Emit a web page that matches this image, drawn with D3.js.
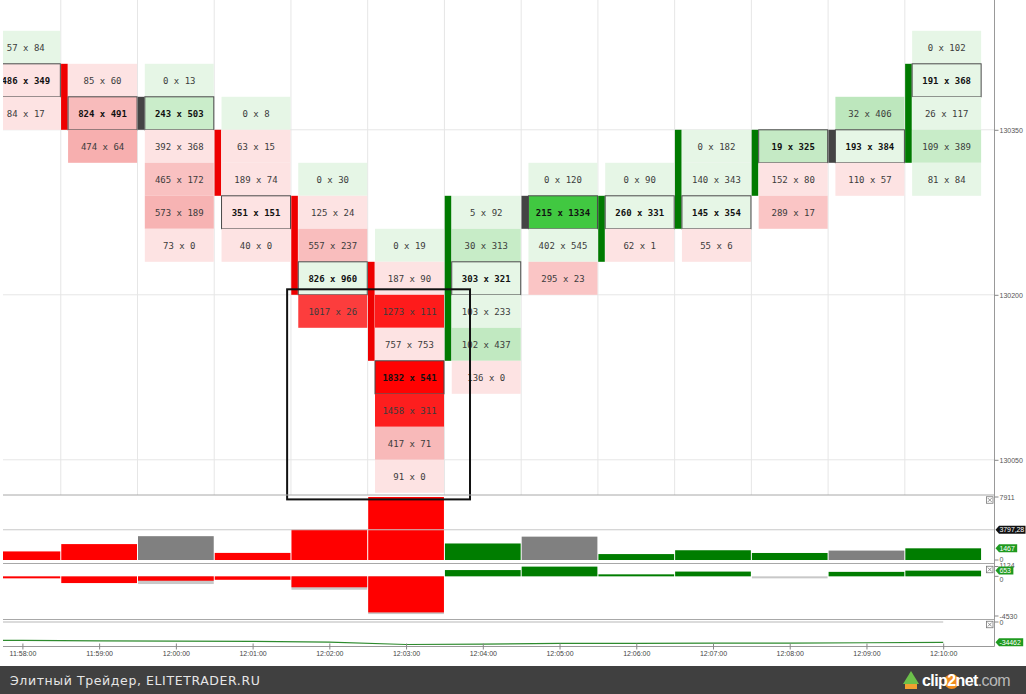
<!DOCTYPE html>
<html><head><meta charset="utf-8">
<script src="https://cdn.jsdelivr.net/npm/d3@7"></script>
<style>
html,body{margin:0;padding:0;background:#fff;}
svg{display:block;}
</style></head><body>
<svg id="chart" width="1026" height="694"></svg>
<script>
// ---------------- DATA ----------------
const times = ["11:58","11:59","12:00","12:01","12:02","12:03","12:04","12:05","12:06","12:07","12:08","12:09","12:10"];
const priceTicks = [130050, 130200, 130350];
const rowStep = 30;
// top price level (row lower bound) of each column's footprint
const cellTop = [130410,130380,130380,130350,130290,130230,130260,130290,130290,130320,130320,130350,130410];
// bid volume per row, top to bottom
const cellBids = [
  [57,486,84],
  [85,824,474],
  [0,243,392,465,573,73],
  [0,63,189,351,40],
  [0,125,557,826,1017],
  [0,187,1273,757,1832,1458,417,91],
  [5,30,303,103,102,136],
  [0,215,402,295],
  [0,260,62],
  [0,140,145,55],
  [19,152,289],
  [32,193,110],
  [0,191,26,109,81]
];
// ask volume per row, top to bottom
const cellAsks = [
  [84,349,17],
  [60,491,64],
  [13,503,368,172,189,0],
  [8,15,74,151,0],
  [30,24,237,960,26],
  [19,90,111,753,541,311,71,0],
  [92,313,321,233,437,0],
  [120,1334,545,23],
  [90,331,1],
  [182,343,354,6],
  [325,80,17],
  [406,384,57],
  [102,368,117,389,84]
];
// highlighted (point of control) row of each column
const pocPrice = [130380,130350,130350,130260,130200,130110,130200,130260,130260,130260,130320,130320,130380];
// candle body, as row levels
const candleOpen  = [130410,130380,130350,130320,130260,130200,130140,130260,130230,130260,130290,130320,130320];
const candleClose = [130380,130350,130350,130290,130200,130140,130260,130260,130260,130320,130320,130320,130380];
// lower panels
const volumeAvg = 3797.28;
const deltaAxisMin = -4530, deltaAxisMax = 1124;
const deltaLow = [null,null,-880,null,-1530,-4310,null,null,null,null,null,null,null];
const cumDeltaLast = -34462;
const footerText = "Элитный Трейдер, ELITETRADER.RU";

// ---------------- DERIVED ----------------
const parse = d3.timeParse("%H:%M");
const cols = times.map((t, i) => {
  const cells = cellBids[i].map((b, j) => ({price: cellTop[i] - j*rowStep, bid: b, ask: cellAsks[i][j]}));
  const bidSum = d3.sum(cellBids[i]), askSum = d3.sum(cellAsks[i]);
  const dir = candleClose[i] > candleOpen[i] ? 1 : (candleClose[i] < candleOpen[i] ? -1 : 0);
  return {i, t: parse(t), cells, vol: bidSum + askSum, delta: askSum - bidSum, dir,
          open: candleOpen[i], close: candleClose[i], poc: pocPrice[i], low: deltaLow[i]};
});
const volMax = d3.max(cols, d => d.vol);
const totalDelta = d3.sum(cols, d => d.delta);
let run = cumDeltaLast - totalDelta;
const cumPts = [{t: d3.timeMinute.offset(cols[0].t, -1), v: run}];
cols.forEach(c => { run += c.delta; cumPts.push({t: c.t, v: run}); });

// ---------------- SCALES ----------------
const svg = d3.select("#chart");
const plotL = 3, plotR = 994.5;
const x = d3.scaleTime().domain([cols[0].t, cols[cols.length-1].t]).range([22.4, 943.2]);
const colW = x(cols[1].t) - x(cols[0].t);
const y = d3.scaleLinear().domain([130018, 130468]).range([495, 0]);
const yVol = d3.scaleLinear().domain([0, volMax]).range([560, 497]);
const yDelta = d3.scaleLinear().domain([deltaAxisMin, deltaAxisMax]).range([616, 566.5]);
const yCum = d3.scaleLinear().domain([d3.min(cumPts, d => d.v), 0]).range([644.5, 622]);

const RED = "#ff0000", GREEN = "#007d00", GRAY = "#808080";
const redScale = d3.scaleLinear().domain([0,220,250,450,1300]).range(["#fde3e3","#fde3e3","#fac8c8","#f6a9a9","#ff0000"]).clamp(true);
const greenScale = d3.scaleLinear().domain([0,220,250,450,1300]).range(["#e6f6e6","#e6f6e6","#cbedcb","#b4e4b4","#22c022"]).clamp(true);
const cellFill = c => (c.ask - c.bid) >= 0 ? greenScale(c.ask - c.bid) : redScale(c.bid - c.ask);

svg.append("defs").append("clipPath").attr("id","clip")
  .append("rect").attr("x", plotL).attr("y", 0).attr("width", plotR - plotL).attr("height", 647);

const g = svg.append("g").attr("clip-path","url(#clip)");

// ---------------- MAIN PANEL GRID ----------------
g.append("g").selectAll("line").data(cols.slice(1)).join("line")
  .attr("x1", d => x(d.t) - colW/2).attr("x2", d => x(d.t) - colW/2)
  .attr("y1", 0).attr("y2", 495).attr("stroke","#e6e6e6").attr("stroke-width",1);
g.append("g").selectAll("line").data(priceTicks).join("line")
  .attr("x1", plotL).attr("x2", plotR).attr("y1", d => y(d)).attr("y2", d => y(d))
  .attr("stroke","#e6e6e6");

// ---------------- CELLS ----------------
const colG = g.append("g").selectAll("g").data(cols).join("g");
colG.each(function(c){
  const L = x(c.t) - colW/2;
  const sel = d3.select(this);
  const top = Math.max(c.open, c.close) + rowStep, bot = Math.min(c.open, c.close);
  sel.append("rect").attr("x", L + 0.3).attr("width", 6.6)
    .attr("y", y(top)).attr("height", y(bot) - y(top))
    .attr("fill", c.dir > 0 ? "#007a00" : (c.dir < 0 ? "#ee0000" : "#444"));
  const cx0 = L + 7.3, cw = 69;
  const cg = sel.selectAll("g.cell").data(c.cells).join("g").attr("class","cell");
  cg.append("rect").attr("x", cx0).attr("width", cw)
    .attr("y", d => y(d.price + rowStep)).attr("height", d => y(d.price) - y(d.price + rowStep))
    .attr("fill", cellFill)
    .attr("stroke", d => d.price === c.poc ? "#4a4a4a" : "none")
    .attr("stroke-width", 1);
  cg.append("text").attr("x", cx0 + cw/2)
    .attr("y", d => (y(d.price) + y(d.price + rowStep))/2 + 3.2)
    .attr("text-anchor","middle")
    .attr("font-family","'DejaVu Sans Mono', monospace")
    .attr("font-size", 9)
    .attr("font-weight", d => d.price === c.poc ? "bold" : "normal")
    .attr("fill", d => d.price === c.poc ? "#111" : "#3c3c3c")
    .text(d => `${d.bid} x ${d.ask}`);
});

// ---------------- VOLUME PANEL ----------------
g.append("g").selectAll("rect").data(cols).join("rect")
  .attr("x", d => x(d.t) - colW/2 + 0.5).attr("width", colW - 1)
  .attr("y", d => yVol(d.vol)).attr("height", d => yVol(0) - yVol(d.vol))
  .attr("fill", d => d.dir > 0 ? GREEN : (d.dir < 0 ? RED : GRAY));
g.append("line").attr("x1", plotL).attr("x2", plotR)
  .attr("y1", yVol(volumeAvg)).attr("y2", yVol(volumeAvg))
  .attr("stroke","#c8c8c8").attr("stroke-width",1);

// ---------------- DELTA PANEL ----------------
g.append("g").selectAll("rect").data(cols.filter(d => d.low !== null)).join("rect")
  .attr("x", d => x(d.t) - colW/2 + 0.5).attr("width", colW - 1)
  .attr("y", yDelta(0)).attr("height", d => yDelta(d.low) - yDelta(0))
  .attr("fill","#c8c8c8");
g.append("g").selectAll("rect").data(cols).join("rect")
  .attr("x", d => x(d.t) - colW/2 + 0.5).attr("width", colW - 1)
  .attr("y", d => d.delta >= 0 ? Math.min(yDelta(d.delta), yDelta(0) - 2) : yDelta(0))
  .attr("height", d => Math.max(2, Math.abs(yDelta(d.delta) - yDelta(0))))
  .attr("fill", d => {
    const s = Math.sign(d.delta);
    if (d.dir !== 0 && s !== d.dir) return "#c8c8c8";
    return s >= 0 ? GREEN : RED;
  });

// ---------------- CUMULATIVE DELTA PANEL ----------------
g.append("line").attr("x1", x(cumPts[0].t)).attr("x2", x(cumPts[cumPts.length-1].t))
  .attr("y1", yCum(0)).attr("y2", yCum(0)).attr("stroke","#cfcfcf").attr("stroke-width",1.5);
g.append("path").datum(cumPts)
  .attr("d", d3.line().x(d => x(d.t)).y(d => yCum(d.v)))
  .attr("fill","none").attr("stroke","#2e8b2e").attr("stroke-width",1.2);

// ---------------- ANNOTATION BOX ----------------
const boxT0 = d3.timeSecond.offset(parse("12:01"), 27), boxT1 = d3.timeSecond.offset(parse("12:03"), 50);
svg.append("rect").attr("x", x(boxT0)).attr("width", x(boxT1) - x(boxT0))
  .attr("y", y(130205)).attr("height", y(130014) - y(130205))
  .attr("fill","none").attr("stroke","#111").attr("stroke-width",2);

// ---------------- SEPARATORS ----------------
[495, 563.5, 619.5].forEach(v => svg.append("line").attr("x1", plotL).attr("x2", plotR)
  .attr("y1", v).attr("y2", v).attr("stroke","#a8a8a8").attr("stroke-width",1));
svg.append("line").attr("x1", plotR).attr("x2", plotR).attr("y1", 0).attr("y2", 646.5)
  .attr("stroke","#999");
svg.append("line").attr("x1", plotL).attr("x2", plotR).attr("y1", 646.5).attr("y2", 646.5)
  .attr("stroke","#999");

// ---------------- AXES ----------------
const axFont = "'Liberation Sans', Arial, sans-serif";
const xAxis = svg.append("g").attr("transform","translate(0,646.5)")
  .call(d3.axisBottom(x).ticks(d3.timeMinute.every(1)).tickFormat(d3.timeFormat("%H:%M:%S")).tickSize(3).tickPadding(2));
xAxis.select(".domain").remove();
xAxis.selectAll("line").attr("y1",-3).attr("stroke","#888");
xAxis.selectAll("text").attr("font-family", axFont).attr("font-size", 7).attr("fill","#444");

const yAxis = svg.append("g").attr("transform",`translate(${plotR},0)`)
  .call(d3.axisRight(y).tickValues(priceTicks).tickSize(4).tickPadding(1).tickFormat(d3.format("d")));
yAxis.select(".domain").remove();
yAxis.selectAll("line").attr("stroke","#888");
yAxis.selectAll("text").attr("font-family", axFont).attr("font-size", 7).attr("fill","#555");

function plainTick(val, yy, dy) {
  svg.append("line").attr("x1", plotR).attr("x2", plotR + 4).attr("y1", yy).attr("y2", yy).attr("stroke","#888");
  svg.append("text").attr("x", plotR + 5).attr("y", yy + 2.5 + (dy || 0)).attr("font-family", axFont)
    .attr("font-size", 7).attr("fill","#555").text(val);
}
plainTick(d3.format("d")(volMax), yVol(volMax));
plainTick("0", yVol(0), -0.5);
plainTick(String(deltaAxisMax), yDelta(deltaAxisMax), -1.5);
plainTick("0", yDelta(0), 3.5);
plainTick(String(deltaAxisMin), yDelta(deltaAxisMin));
plainTick("0", yCum(0), 0.5);

function tag(label, yy, fill) {
  const tg = svg.append("g");
  const t = tg.append("text").attr("x", plotR + 5).attr("y", yy + 2.4).attr("font-family", axFont)
    .attr("font-size", 7).attr("letter-spacing", -0.1).attr("fill","#fff").text(label);
  const w = Math.min(t.node().getComputedTextLength() + 6.5, 1025.5 - plotR - 1);
  const x0 = plotR + 1, h = 8;
  tg.insert("path","text").attr("d", `M${x0},${yy} L${x0+3.5},${yy-h/2} L${x0+w},${yy-h/2} L${x0+w},${yy+h/2} L${x0+3.5},${yy+h/2} Z`)
    .attr("fill", fill);
}
tag(String(volumeAvg).replace(".", ","), yVol(volumeAvg), "#111");
tag(String(cols[cols.length-1].vol), yVol(cols[cols.length-1].vol), "#1f9a1f");
tag(String(cols[cols.length-1].delta), yDelta(cols[cols.length-1].delta), "#1f9a1f");
tag(String(cumDeltaLast), yCum(cumDeltaLast), "#1f9a1f");

// close boxes
[yVol(volMax) + 3, yDelta(deltaAxisMax) + 3, yCum(0) + 2.5].forEach(yy => {
  const bx = 986.5, s = 6.5;
  const b = svg.append("g").attr("stroke","#777").attr("stroke-width",0.8).attr("fill","#fff");
  b.append("rect").attr("x", bx).attr("y", yy - s/2).attr("width", s).attr("height", s);
  b.append("path").attr("d", `M${bx+1.3},${yy-s/2+1.3}L${bx+s-1.3},${yy+s/2-1.3}M${bx+s-1.3},${yy-s/2+1.3}L${bx+1.3},${yy+s/2-1.3}`);
});

// ---------------- FOOTER ----------------
svg.append("rect").attr("x",0).attr("y",666).attr("width",1026).attr("height",28).attr("fill","#404040");
svg.append("text").attr("x",10).attr("y",684.5).attr("font-family","'DejaVu Sans', Tahoma, sans-serif")
  .attr("font-size",12.5).attr("letter-spacing",0.6).attr("fill","#e6e6e6").text(footerText);
const logo = svg.append("g");
logo.append("path").attr("d","M903,684 L911,671 L919,684 Z").attr("fill","#6cc04a");
logo.append("rect").attr("x",905).attr("y",684).attr("width",12).attr("height",5).attr("fill","#f0a030");
const lt = logo.append("text").attr("x",922).attr("y",686).attr("font-family","'Liberation Sans', Arial, sans-serif")
  .attr("font-size",16).attr("font-weight","bold").attr("fill","#fff").attr("letter-spacing",-0.6);
lt.append("tspan").text("clip");
lt.append("tspan").attr("fill","#fff").text("2");
lt.append("tspan").text("net");
lt.append("tspan").attr("font-weight","normal").attr("fill","#b8b8b8").text(".com");
const t2 = lt.selectAll("tspan").nodes()[1];
const bb = t2.getBBox();
logo.insert("circle","text").attr("cx", bb.x + bb.width/2).attr("cy", bb.y + bb.height/2 + 1).attr("r", 7.5).attr("fill","#f08c1e");
</script>
</body></html>
